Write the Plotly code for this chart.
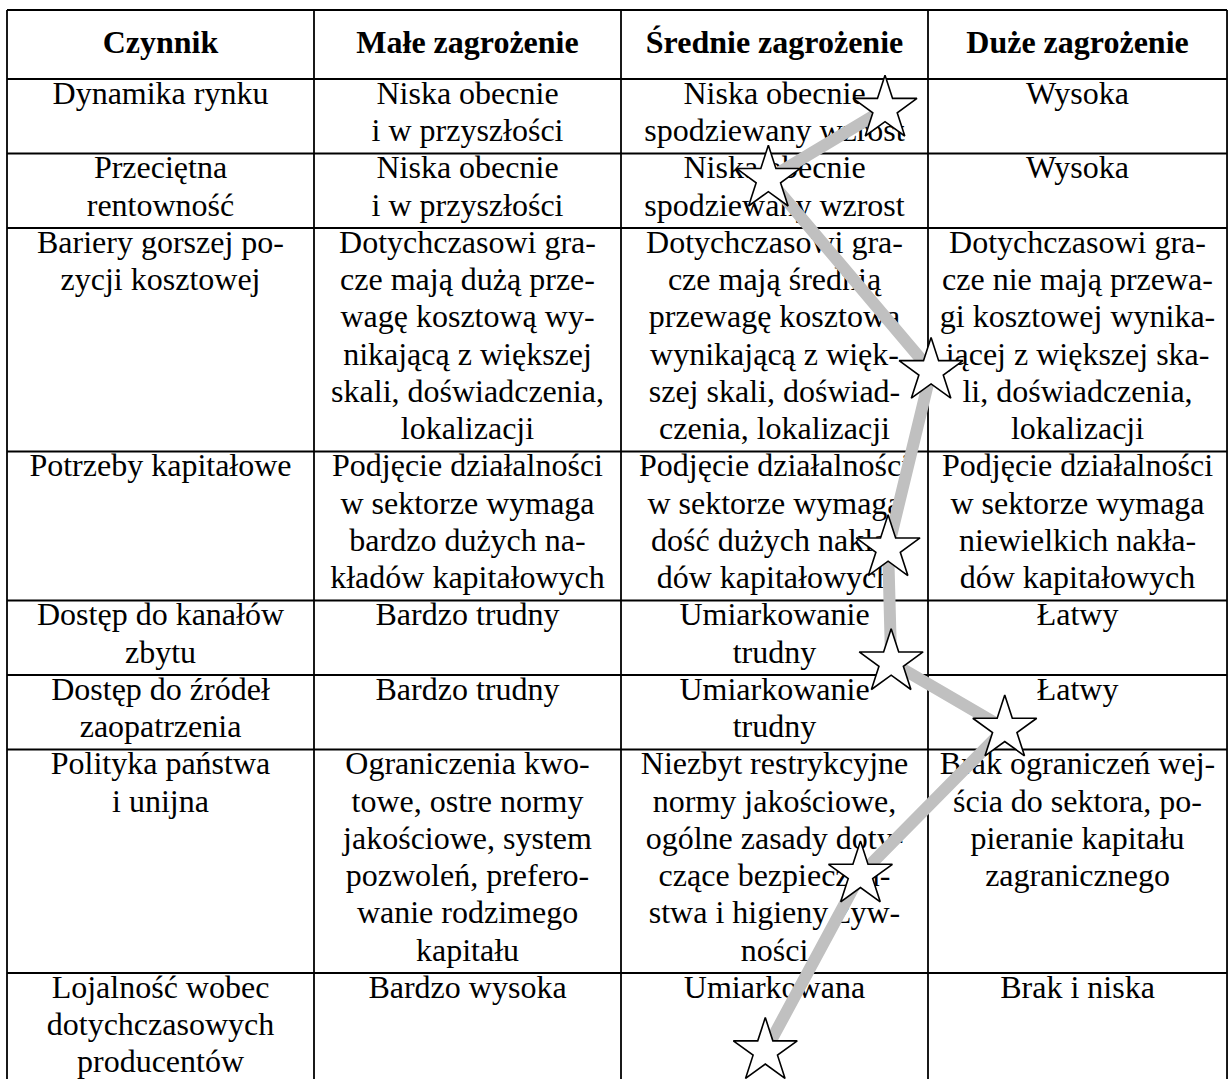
import plotly.graph_objects as go

headers = ["Czynnik", "Małe zagrożenie", "Średnie zagrożenie", "Duże zagrożenie"]

factors = [
    "Dynamika rynku",
    "Przeciętna\nrentowność",
    "Bariery gorszej po-\nzycji kosztowej",
    "Potrzeby kapitałowe",
    "Dostęp do kanałów\nzbytu",
    "Dostęp do źródeł\nzaopatrzenia",
    "Polityka państwa\ni unijna",
    "Lojalność wobec\ndotychczasowych\nproducentów",
]
low_threat = [
    "Niska obecnie\ni w przyszłości",
    "Niska obecnie\ni w przyszłości",
    "Dotychczasowi gra-\ncze mają dużą prze-\nwagę kosztową wy-\nnikającą z większej\nskali, doświadczenia,\nlokalizacji",
    "Podjęcie działalności\nw sektorze wymaga\nbardzo dużych na-\nkładów kapitałowych",
    "Bardzo trudny",
    "Bardzo trudny",
    "Ograniczenia kwo-\ntowe, ostre normy\njakościowe, system\npozwoleń, prefero-\nwanie rodzimego\nkapitału",
    "Bardzo wysoka",
]
medium_threat = [
    "Niska obecnie\nspodziewany wzrost",
    "Niska obecnie\nspodziewany wzrost",
    "Dotychczasowi gra-\ncze mają średnią\nprzewagę kosztową\nwynikającą z więk-\nszej skali, doświad-\nczenia, lokalizacji",
    "Podjęcie działalności\nw sektorze wymaga\ndość dużych nakła-\ndów kapitałowych",
    "Umiarkowanie\ntrudny",
    "Umiarkowanie\ntrudny",
    "Niezbyt restrykcyjne\nnormy jakościowe,\nogólne zasady doty-\nczące bezpieczeń-\nstwa i higieny żyw-\nności",
    "Umiarkowana",
]
high_threat = [
    "Wysoka",
    "Wysoka",
    "Dotychczasowi gra-\ncze nie mają przewa-\ngi kosztowej wynika-\njącej z większej ska-\nli, doświadczenia,\nlokalizacji",
    "Podjęcie działalności\nw sektorze wymaga\nniewielkich nakła-\ndów kapitałowych",
    "Łatwy",
    "Łatwy",
    "Brak ograniczeń wej-\nścia do sektora, po-\npieranie kapitału\nzagranicznego",
    "Brak i niska",
]

# Assessed threat level for each factor (1 = małe, 2 = średnie, 3 = duże)
star_score = [2.36, 1.98, 2.51, 2.37, 2.38, 2.75, 2.28, 1.97]
# Vertical position of the star inside its row (0 = top, 1 = bottom)
star_pos_in_row = [0.40, 0.34, 0.64, 0.65, 0.83, 0.72, 0.56, 0.70]

# ---- layout geometry (in "text line" units vertically, threat units horizontally)
W, H = 1229, 1079
LINE_PX = 37.25
HEADER_LINES = 69 / LINE_PX
TOP_PX = 10
col_edges = [-0.5, 0.5, 1.5, 2.5, 3.474]

columns = [factors, low_threat, medium_threat, high_threat]
row_lines = [max(len(c[i].split("\n")) for c in columns) for i in range(len(factors))]
row_tops = []
acc = 0.0
for n in row_lines:
    row_tops.append(acc)
    acc += n
row_bottom = acc
table_top = -HEADER_LINES

y_top_px = -(TOP_PX + 69) / LINE_PX
y_bot_px = y_top_px + H / LINE_PX
x_unit_px = 307.0
x_left = -0.5 - 7 / x_unit_px
x_right = x_left + W / x_unit_px

fig = go.Figure()

FAMILY = "Liberation Serif"
font_reg = dict(family=FAMILY, size=32, color="black")
font_bold = dict(family=FAMILY, size=32, color="black")

# header texts
fig.add_trace(go.Scatter(
    x=[(col_edges[j] + col_edges[j + 1]) / 2 for j in range(4)],
    y=[table_top / 2] * 4,
    mode="text",
    text=[f"<b>{h}</b>" for h in headers],
    textfont=font_bold,
    textposition="middle center",
    hoverinfo="skip",
    showlegend=False,
))

# cell texts
xs, ys, ts = [], [], []
for j, col in enumerate(columns):
    xc = (col_edges[j] + col_edges[j + 1]) / 2
    for i, cell in enumerate(col):
        for k, line in enumerate(cell.split("\n")):
            xs.append(xc)
            ys.append(row_tops[i] + k + 0.45)
            ts.append(line)
fig.add_trace(go.Scatter(
    x=xs, y=ys, mode="text", text=ts, textfont=font_reg,
    textposition="middle center", hoverinfo="skip", showlegend=False,
))

# star path
sy = [row_tops[i] + star_pos_in_row[i] * row_lines[i] for i in range(len(factors))]
fig.add_trace(go.Scatter(
    x=star_score, y=sy, mode="lines",
    line=dict(color="#c0c0c0", width=12),
    hoverinfo="skip", showlegend=False,
))
fig.add_trace(go.Scatter(
    x=star_score, y=sy, mode="markers",
    marker=dict(symbol="star", size=48, color="white",
                line=dict(color="black", width=1.6)),
    hoverinfo="skip", showlegend=False,
))

# grid lines
shapes = []
lw = 1.8
for xe in col_edges:
    shapes.append(dict(type="line", x0=xe, x1=xe, y0=table_top, y1=row_bottom,
                       line=dict(color="black", width=lw), layer="below"))
h_edges = [table_top] + row_tops + [row_bottom]
for ye in h_edges:
    shapes.append(dict(type="line", x0=col_edges[0], x1=col_edges[-1], y0=ye, y1=ye,
                       line=dict(color="black", width=lw), layer="below"))

fig.update_layout(
    width=W, height=H,
    margin=dict(l=0, r=0, t=0, b=0),
    paper_bgcolor="white", plot_bgcolor="white",
    shapes=shapes,
    xaxis=dict(range=[x_left, x_right], visible=False, fixedrange=True),
    yaxis=dict(range=[y_bot_px, y_top_px], visible=False, fixedrange=True),
    showlegend=False,
)

fig.write_html(
    "out.html",
    config={"displayModeBar": False},
    post_script="document.body.style.margin='0';document.body.style.overflow='hidden';",
)
